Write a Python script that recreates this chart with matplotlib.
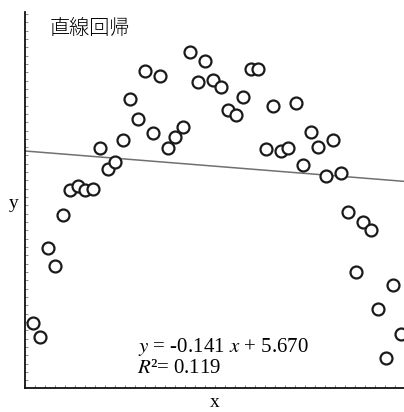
import matplotlib
matplotlib.use("Agg")
import matplotlib.pyplot as plt
from matplotlib.ticker import MultipleLocator, NullFormatter
import numpy as np

# data (x = 0.2 .. 10.0)
x_vals = [0.2 * i for i in range(1, 51)]
y_vals = [-2.38, -3.04, 1.13, 0.29, 2.67, 3.84, 4.03, 3.84, 3.89, 5.81,
          4.83, 5.16, 6.18, 8.10, 7.17, 9.42, 6.51, 9.18, 5.81, 6.33,
          6.79, 10.30, 8.90, 9.88, 8.99, 8.67, 7.59, 7.36, 8.20, 9.51,
          9.51, 5.76, 7.78, 5.67, 5.81, 7.92, 5.01, 6.56, 5.86, 4.50,
          6.18, 4.64, 2.81, 0.01, 2.35, 1.97, -1.73, -4.02, -0.60, -2.90]

# regression result shown on the chart
slope = -0.141
intercept = 5.670
r2 = 0.119

plt.rcParams['mathtext.fontset'] = 'stix'

fig = plt.figure(figsize=(4.04, 4.12), dpi=100)
ax = fig.add_axes([25 / 404, 24 / 412, 379 / 404, 376 / 412])

ax.set_xlim(0, 10.08)
ax.set_ylim(-5.43, 12.18)

# regression line
xs = np.array([0, 10.08])
ax.plot(xs, slope * xs + intercept, color='#707070', lw=1.1, zorder=2)

# points
ax.plot(x_vals, y_vals, 'o', markersize=8.6, markerfacecolor='white',
        markeredgecolor='#1a1a1a', markeredgewidth=1.6, zorder=3, clip_on=True)

for side in ['top', 'right']:
    ax.spines[side].set_visible(False)
for side in ['left', 'bottom']:
    ax.spines[side].set_linewidth(1.3)
    ax.spines[side].set_color('#111111')

ax.xaxis.set_major_locator(MultipleLocator(0.266))
ax.yaxis.set_major_locator(MultipleLocator(0.39))
ax.xaxis.set_major_formatter(NullFormatter())
ax.yaxis.set_major_formatter(NullFormatter())
ax.tick_params(direction='in', length=2.5, width=0.6, color='#777777')

ax.set_xlabel('x', family='Liberation Serif', fontsize=14, labelpad=1)
ax.set_ylabel('y', family='Liberation Serif', fontsize=14, rotation=0, va='center', ha='center')
ax.yaxis.set_label_coords(-0.029, 0.49)

ax.text(0.066, 0.955, '直線回帰', transform=ax.transAxes, family=['Noto Sans CJK JP', 'DejaVu Sans'],
        fontsize=14.5, va='center', ha='left', fontweight='light')

ax.text(0.298, 0.108, '$y$ = -%.3f $x$ + %.3f' % (-slope, intercept), transform=ax.transAxes,
        family='Liberation Serif', fontsize=15, va='center', ha='left')
ax.text(0.295, 0.053, '$R$²= %.3f' % r2, transform=ax.transAxes,
        family='Liberation Serif', fontsize=15, va='center', ha='left')

fig.savefig('out.png', dpi=100)
